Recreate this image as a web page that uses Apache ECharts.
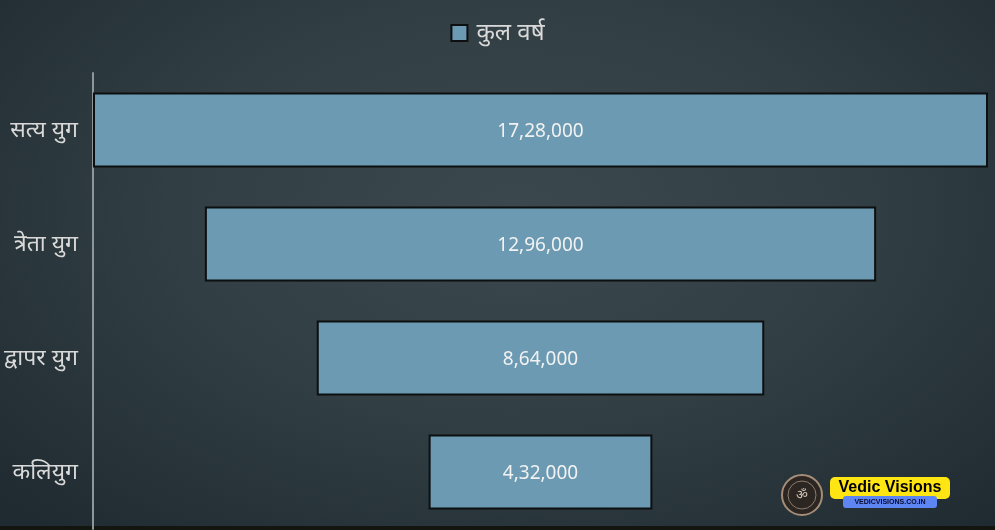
<!DOCTYPE html>
<html>
<head>
<meta charset="utf-8">
<script src="https://cdn.jsdelivr.net/npm/echarts@6/dist/echarts.min.js"></script>
<style>
html,body{margin:0;padding:0;}
#c{width:995px;height:530px;background:radial-gradient(ellipse 70% 80% at 52% 40%, #3b484d 0%, #313e43 50%, #1f2b30 100%);}
</style>
</head>
<body>
<div id="c"></div>
<script>
const categories = ['सत्य युग', 'त्रेता युग', 'द्वापर युग', 'कलियुग'];
const totalYears = [1728000, 1296000, 864000, 432000];
const seriesName = 'कुल वर्ष';

function indianFormat(n) {
  const s = String(n);
  if (s.length <= 3) return s;
  const last3 = s.slice(-3);
  let rest = s.slice(0, -3);
  const parts = [];
  while (rest.length > 2) { parts.unshift(rest.slice(-2)); rest = rest.slice(0, -2); }
  if (rest) parts.unshift(rest);
  return parts.join(',') + ',' + last3;
}

const maxVal = Math.max(...totalYears);
const offsets = totalYears.map(v => (maxVal - v) / 2);
const FONT = "'Noto Sans', 'Open Sans', sans-serif";

const chart = echarts.init(document.getElementById('c'));
chart.setOption({
  backgroundColor: 'transparent',
  animation: false,
  legend: {
    data: [{ name: seriesName, icon: 'rect', itemStyle: { borderColor: '#0d0f10', borderWidth: 2 } }],
    top: 16,
    left: 'center',
    itemWidth: 16,
    itemHeight: 16,
    itemGap: 8,
    textStyle: { color: '#d9d9d9', fontSize: 24, fontFamily: FONT, padding: [0, 0, 0, 4] }
  },
  grid: { left: 93, right: 7, top: 73, bottom: 1, containLabel: false },
  xAxis: { type: 'value', min: 0, max: maxVal, show: false },
  yAxis: {
    type: 'category',
    data: categories,
    inverse: true,
    axisLine: { show: true, lineStyle: { color: '#8d979b', width: 2 } },
    axisTick: { show: false },
    axisLabel: { color: '#d9d9d9', fontSize: 23, fontFamily: FONT, margin: 15, padding: [4, 0, 0, 0] }
  },
  series: [
    {
      name: 'offset',
      type: 'bar',
      stack: 'f',
      data: offsets,
      itemStyle: { color: 'transparent' },
      barWidth: 75,
      silent: true
    },
    {
      name: seriesName,
      type: 'bar',
      stack: 'f',
      data: totalYears,
      barWidth: 75,
      itemStyle: { color: '#6b9ab2', borderColor: '#0d0f10', borderWidth: 2 },
      label: {
        show: true,
        position: 'inside',
        color: '#f2f2f2',
        fontSize: 19,
        fontFamily: FONT,
        offset: [0, 2],
        formatter: p => indianFormat(p.value)
      }
    }
  ],
  graphic: [
    { type: 'rect', shape: { x: 0, y: 526, width: 995, height: 4 }, style: { fill: '#12160f' } },
    { type: 'circle', shape: { cx: 802, cy: 495, r: 20 }, style: { fill: '#2b2622', stroke: '#a58d78', lineWidth: 2 } },
    { type: 'circle', shape: { cx: 802, cy: 495, r: 14 }, style: { fill: 'none', stroke: '#8d7b6b', lineWidth: 1 } },
    { type: 'text', style: { x: 802, y: 495, text: 'ॐ', fill: '#d8c8b8', fontSize: 13, align: 'center', verticalAlign: 'middle' } },
    { type: 'rect', shape: { x: 830, y: 477, width: 120, height: 22, r: 5 }, style: { fill: '#ffe512' } },
    { type: 'text', style: { x: 890, y: 488, text: 'Vedic Visions', fill: '#000', fontSize: 16, fontWeight: 'bold', fontFamily: "'Liberation Sans', Arial, sans-serif", align: 'center', verticalAlign: 'middle' } },
    { type: 'rect', shape: { x: 843, y: 496, width: 94, height: 12, r: 3 }, style: { fill: '#5d86f2' } },
    { type: 'text', style: { x: 890, y: 502, text: 'VEDICVISIONS.CO.IN', fill: '#0a0a30', fontSize: 7, fontWeight: 'bold', fontFamily: "'Liberation Sans', Arial, sans-serif", align: 'center', verticalAlign: 'middle' } }
  ]
});
</script>
</body>
</html>
